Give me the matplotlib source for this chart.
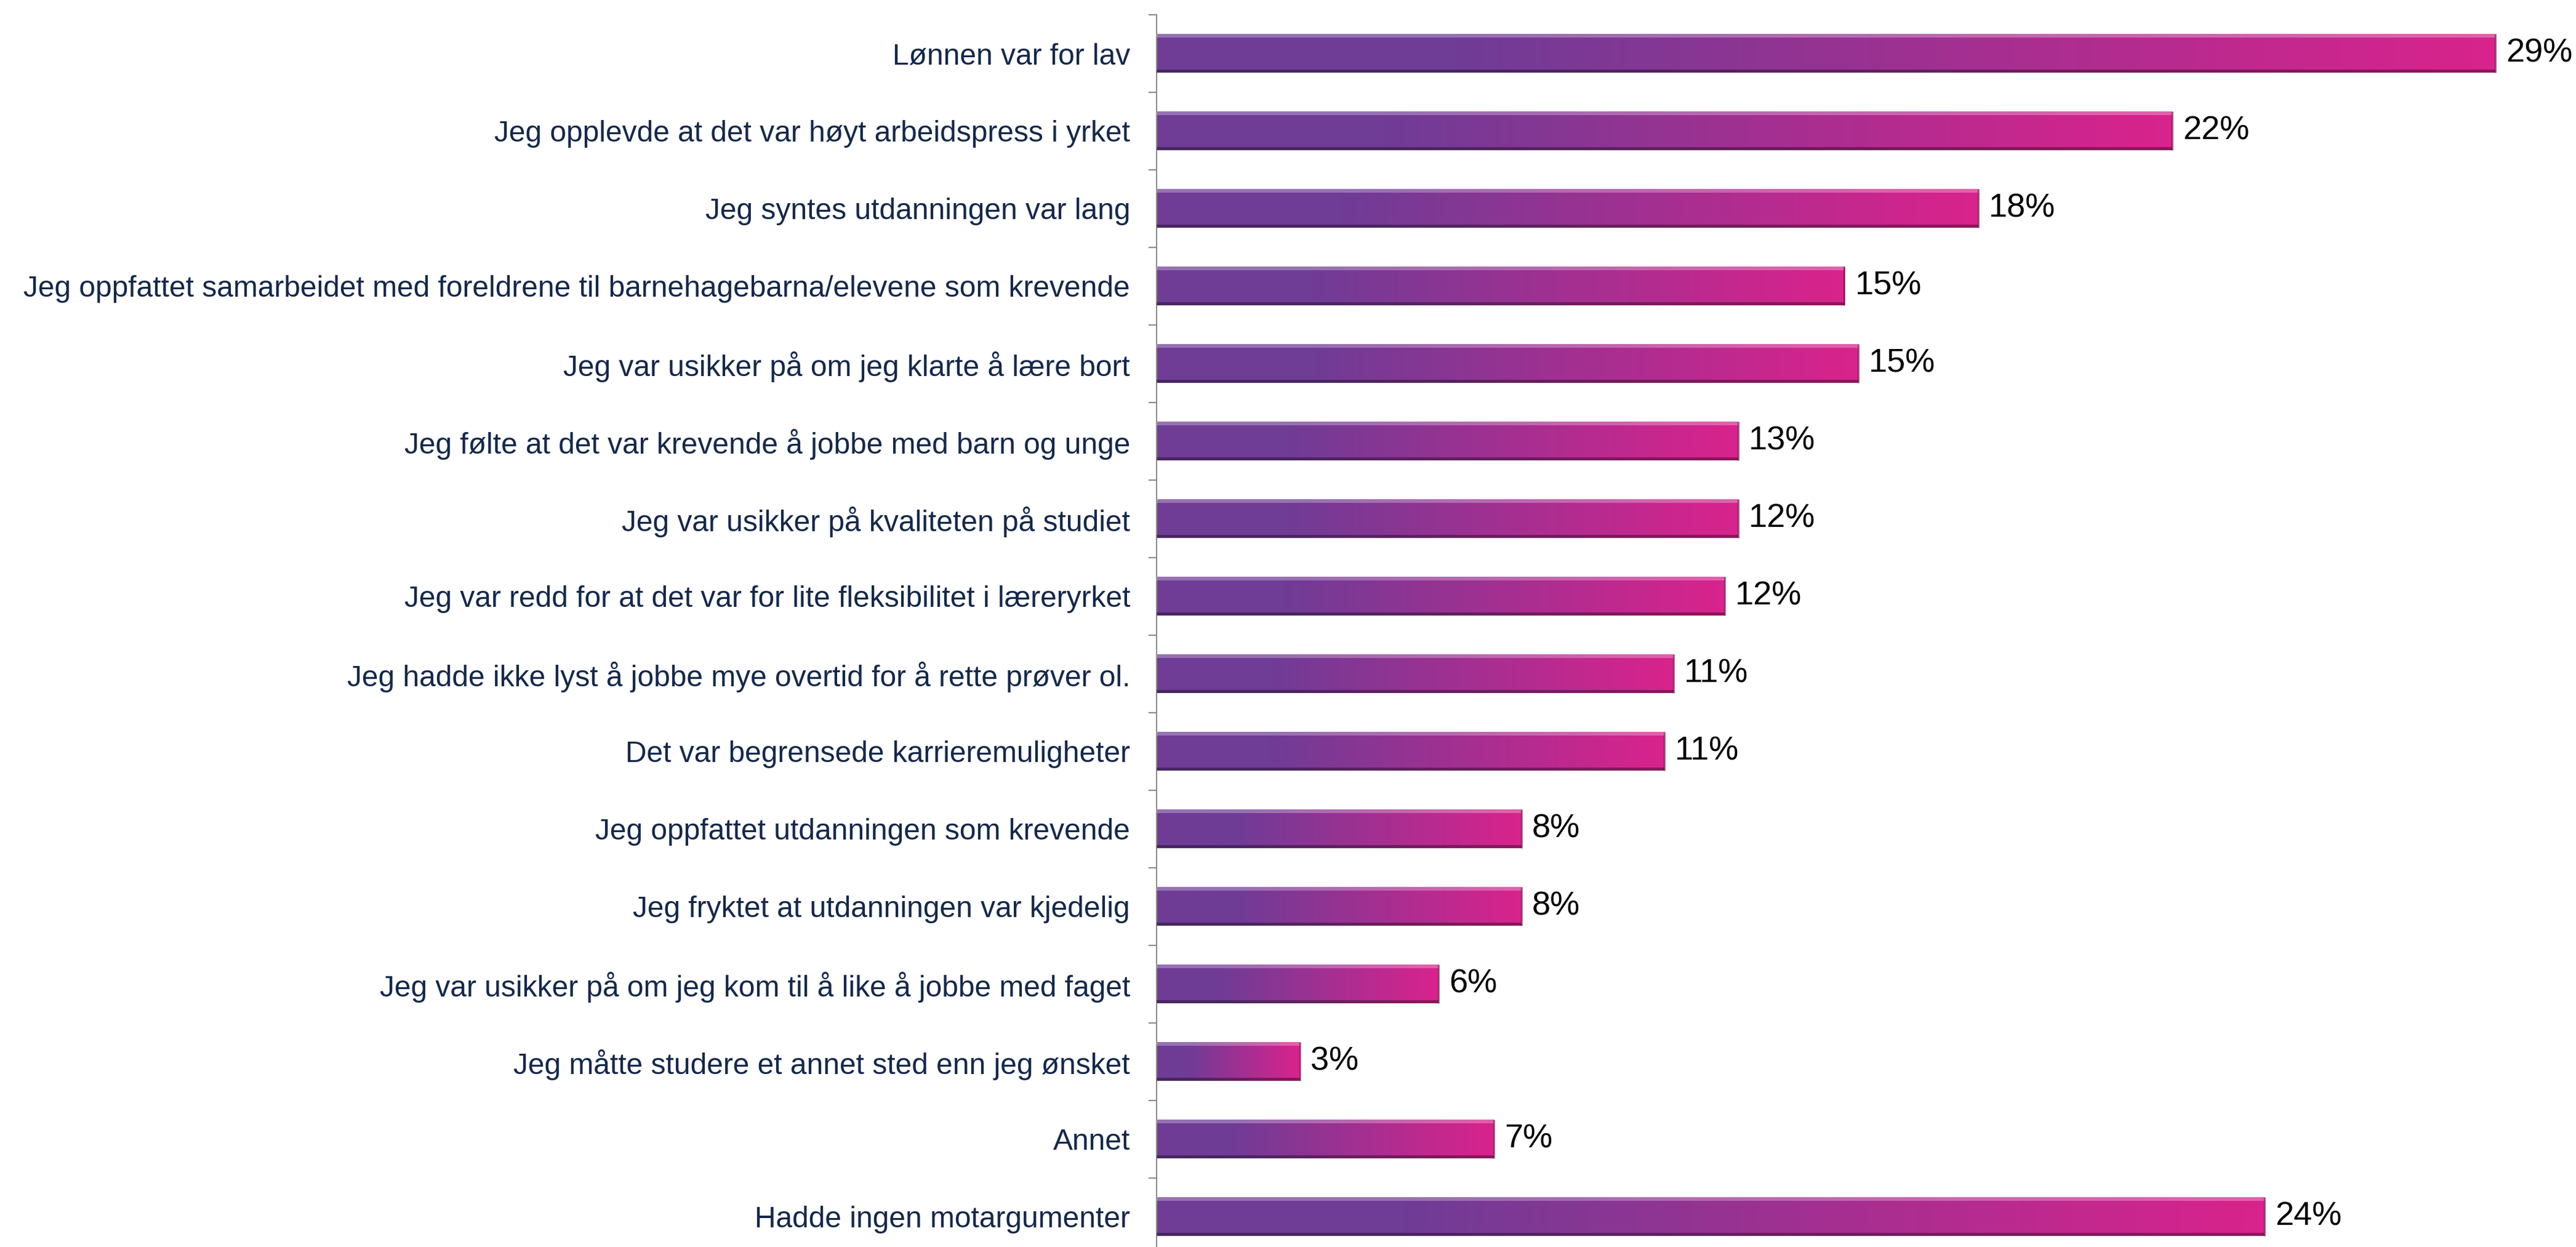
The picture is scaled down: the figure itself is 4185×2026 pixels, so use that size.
"""
Motargumenter mot lærerutdanning: liggende stolpediagram med gradient
"""

import matplotlib.pyplot as plt
import numpy as np
from matplotlib.colors import LinearSegmentedColormap

plt.rcParams['font.family'] = ['Liberation Sans', 'DejaVu Sans']

categories = [
    "Lønnen var for lav",
    "Jeg opplevde at det var høyt arbeidspress i yrket",
    "Jeg syntes utdanningen var lang",
    "Jeg oppfattet samarbeidet med foreldrene til barnehagebarna/elevene som krevende",
    "Jeg var usikker på om jeg klarte å lære bort",
    "Jeg følte at det var krevende å jobbe med barn og unge",
    "Jeg var usikker på kvaliteten på studiet",
    "Jeg var redd for at det var for lite fleksibilitet i læreryrket",
    "Jeg hadde ikke lyst å jobbe mye overtid for å rette prøver ol.",
    "Det var begrensede karrieremuligheter",
    "Jeg oppfattet utdanningen som krevende",
    "Jeg fryktet at utdanningen var kjedelig",
    "Jeg var usikker på om jeg kom til å like å jobbe med faget",
    "Jeg måtte studere et annet sted enn jeg ønsket",
    "Annet",
    "Hadde ingen motargumenter",
]
values = [29.0, 22.0, 17.8, 14.9, 15.2, 12.6, 12.6, 12.3, 11.2, 11.0, 7.9, 7.9, 6.1, 3.1, 7.3, 24.0]
value_labels = ["29%", "22%", "18%", "15%", "15%", "13%", "12%", "12%", "11%", "11%",
                "8%", "8%", "6%", "3%", "7%", "24%"]

# farger
purple = '#6f3c96'
pink = '#d9238c'
cmap = LinearSegmentedColormap.from_list('lilla_rosa', [(0, purple), (0.22, purple), (1, pink)])

fig = plt.figure(figsize=(41.85, 20.26), dpi=100)
ax = fig.add_axes([0.449, -0.0069, 0.5376, 0.9951])

y = np.arange(len(categories))
bars = ax.barh(y, values, height=0.5, color='none', edgecolor='none')

grad = np.linspace(0, 1, 256).reshape(1, -1)
for bar in bars:
    x0, yb = bar.get_x(), bar.get_y()
    w, h = bar.get_width(), bar.get_height()
    im = ax.imshow(grad, cmap=cmap, aspect='auto', extent=(x0, x0 + w, yb + h, yb),
                   interpolation='bicubic', zorder=2)
    im.set_clip_path(bar)
    # avfasing: lys kant oppe, mørk kant nede og til høyre
    ax.fill_between([x0, x0 + w], yb, yb + h * 0.09, color='white', alpha=0.28,
                    linewidth=0, zorder=3)
    ax.fill_between([x0, x0 + w], yb + h * 0.92, yb + h, color='black', alpha=0.35,
                    linewidth=0, zorder=3)
    ax.plot([x0 + w, x0 + w], [yb, yb + h], color='#3a1030', linewidth=2.0,
            alpha=0.6, zorder=4, solid_capstyle='butt')

for yi, v, lab in zip(y, values, value_labels):
    ax.text(v + 0.23, yi, lab, va='center', ha='left', fontsize=39, color='black',
            clip_on=False)

ax.set_xlim(0, 30)
ax.set_ylim(len(categories) - 0.5, -0.5)

ax.set_yticks(y)
ax.set_yticklabels(categories, fontsize=34.5, color='#14284b')
ax.set_yticks(np.arange(-0.5, len(categories), 1), minor=True)
ax.tick_params(axis='y', which='major', length=0, pad=31)
ax.tick_params(axis='y', which='minor', length=9.4, width=1.5, color='#8c8c8c')
ax.set_xticks([])

for side in ['top', 'right', 'bottom']:
    ax.spines[side].set_visible(False)
ax.spines['left'].set_color('#8c8c8c')
ax.spines['left'].set_linewidth(1.5)

fig.savefig('out.png', dpi=100)
